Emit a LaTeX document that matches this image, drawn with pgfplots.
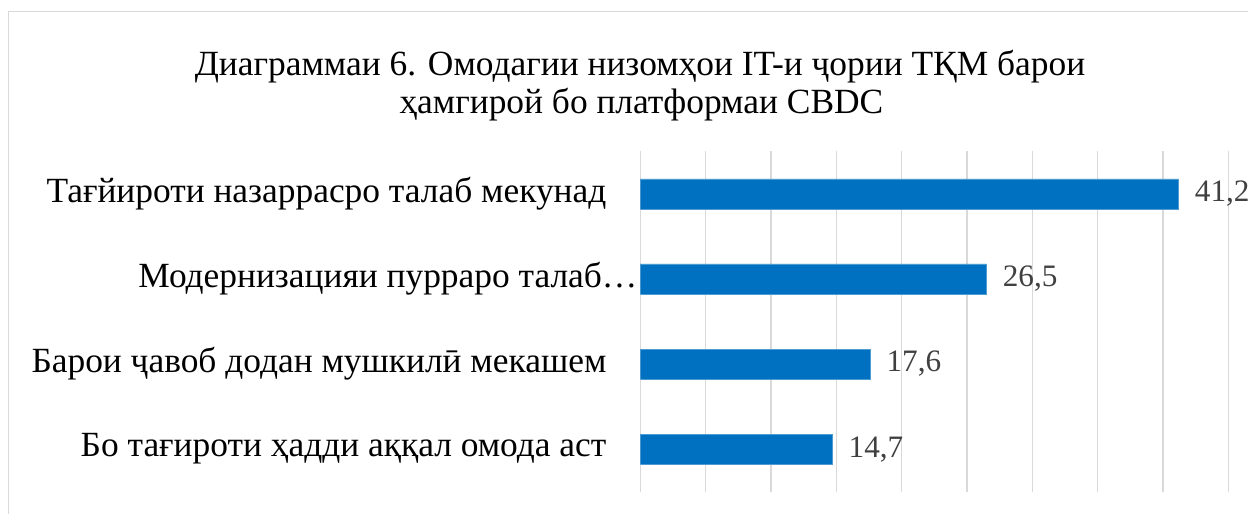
\documentclass[border=0pt]{standalone}
\usepackage{fontspec}
\setmainfont{Liberation Serif}
\usepackage{pgfplots}
\pgfplotsset{compat=1.18}
\definecolor{barblue}{HTML}{0070C0}
\definecolor{gridgray}{HTML}{D9D9D9}
\definecolor{lblgray}{HTML}{404040}
\begin{document}
\begin{tikzpicture}[x=1pt,y=1pt]
\useasboundingbox (0,0) rectangle (624,257);
\draw[gridgray, line width=0.7pt] (4.3,-20) -- (4.3,251.1) -- (700,251.1);
\node[font=\fontsize{17.7}{21}\selectfont, anchor=base] at (320,219.2) {Диаграммаи 6. Омодагии низомҳои IT-и ҷории ТҚМ барои};
\node[font=\fontsize{17.7}{21}\selectfont, anchor=base] at (320.7,200.2) {ҳамгирой бо платформаи CBDC};
\begin{axis}[
  at={(320.15pt,11.15pt)}, anchor=south west,
  width=294pt, height=170.2pt, scale only axis,
  xmin=0, xmax=45, ymin=-0.5, ymax=3.5, y dir=reverse,
  xtick={0,5,...,45}, xticklabels={},
  ytick={0,1,2,3},
  yticklabels={Тағйироти назаррасро талаб мекунад, Модернизацияи пурраро талаб…\kern-15.5pt, Барои ҷавоб додан мушкилӣ мекашем, Бо тағироти ҳадди аққал омода аст},
  yticklabel style={font=\fontsize{17.7}{21}\selectfont, anchor=east, inner sep=0pt, xshift=-12.5pt, text=black},
  axis line style={draw=none},
  tick style={draw=none},
  xmajorgrids, major grid style={gridgray, line width=0.65pt},
  xbar, bar width=15pt,
  nodes near coords,
  nodes near coords style={font=\fontsize{15.6}{19}\selectfont, text=lblgray, anchor=west, inner sep=0pt, xshift=8pt},
  /pgf/number format/.cd, use comma, fixed, fixed zerofill, precision=1, assume math mode=true,
]
\addplot[fill=barblue, draw=barblue!70!white, line width=0.3pt] coordinates {(41.2,0) (26.5,1) (17.6,2) (14.7,3)};
\end{axis}
\end{tikzpicture}
\end{document}
